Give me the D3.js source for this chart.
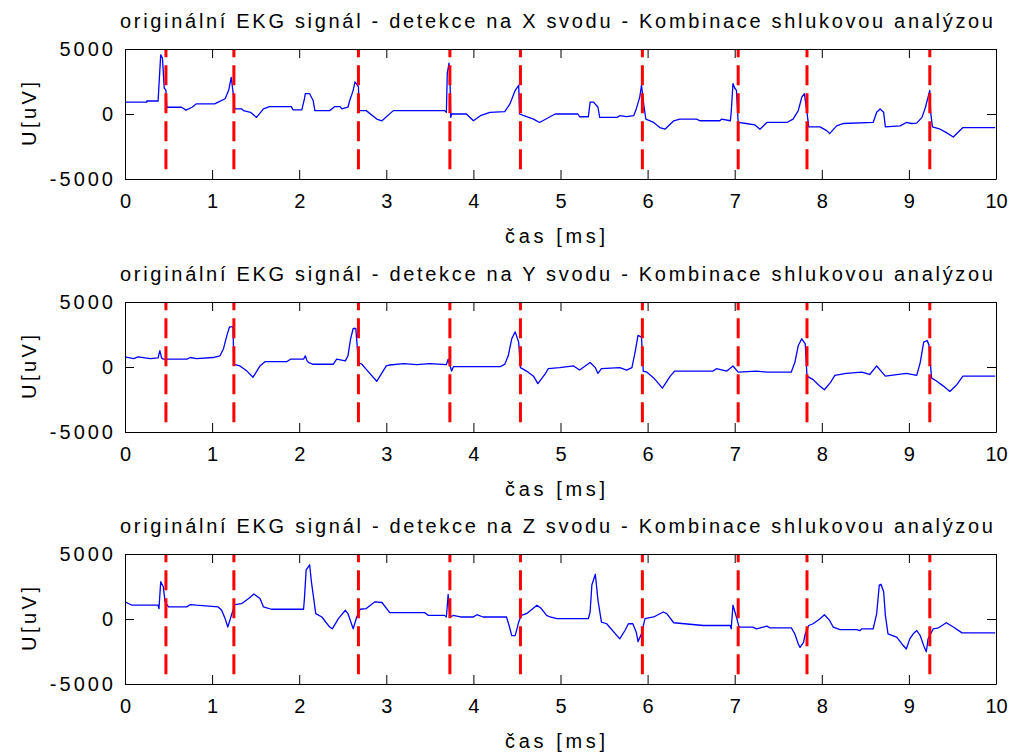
<!DOCTYPE html>
<html><head><meta charset="utf-8">
<script src="https://cdn.jsdelivr.net/npm/d3@7"></script>
<style>
body{margin:0;background:#fff}
svg text{font-family:"Liberation Sans",Arial,Helvetica,sans-serif;fill:#000}
</style>
</head><body>
<svg id="chart" width="1011" height="753"></svg>
<script>
// ---------- data ----------
const leads = ["X", "Y", "Z"];
const timeTicks = [0, 1, 2, 3, 4, 5, 6, 7, 8, 9, 10];
const voltTicks = [-5000, 0, 5000];
const timeDomain = [0, 10];
const voltDomain = [-5000, 5000];
const detections = [0.47, 1.25, 2.68, 3.73, 4.54, 5.94, 7.04, 7.83, 9.24];
const markerRange = [-4250, 5000];
const xLabelText = "čas [ms]";
const yLabelText = "U[uV]";
const titlePrefix = "originální EKG signál - detekce na ";
const titleSuffix = " svodu - Kombinace shlukovou analýzou";

const signalX = [[0,910],[0.25,910],[0.25,1000],[0.38,1000],[0.39,2210],[0.41,4550],[0.43,4300],[0.44,3200],[0.45,2000],[0.47,1820],[0.48,520],[0.65,520],[0.70,300],[0.77,520],[0.82,780],[1.03,780],[1.07,910],[1.15,1170],[1.19,1820],[1.22,2810],[1.24,1700],[1.26,390],[1.34,390],[1.36,260],[1.44,130],[1.51,-260],[1.59,390],[1.66,570],[1.91,570],[1.93,310],[2.03,310],[2.06,1170],[2.07,1560],[2.12,1560],[2.16,1040],[2.18,260],[2.35,260],[2.41,570],[2.47,570],[2.49,390],[2.56,520],[2.58,1040],[2.62,1820],[2.64,2470],[2.66,2300],[2.68,2080],[2.69,260],[2.77,260],[2.89,-390],[2.95,-520],[3.08,260],[3.67,260],[3.69,130],[3.70,3125],[3.72,3906],[3.73,3000],[3.74,-260],[3.75,0],[3.92,0],[4.00,-520],[4.08,-130],[4.19,130],[4.36,180],[4.42,780],[4.48,1820],[4.52,2210],[4.53,0],[4.61,-210],[4.69,-390],[4.76,-650],[4.88,-210],[4.94,0],[5.20,0],[5.22,-210],[5.32,-210],[5.34,910],[5.38,910],[5.43,520],[5.45,-260],[5.65,-260],[5.68,-130],[5.76,-210],[5.84,-130],[5.87,390],[5.91,1300],[5.93,2210],[5.96,520],[5.98,-390],[6.07,-650],[6.14,-1045],[6.20,-1170],[6.30,-520],[6.37,-390],[6.56,-390],[6.60,-520],[6.83,-520],[6.85,-390],[6.95,-520],[6.96,130],[6.98,2340],[7.00,2000],[7.02,1820],[7.04,-650],[7.13,-730],[7.23,-835],[7.29,-1170],[7.37,-650],[7.60,-650],[7.67,-390],[7.73,260],[7.77,1300],[7.80,1560],[7.83,130],[7.85,-990],[7.98,-990],[8.06,-1300],[8.09,-1510],[8.17,-910],[8.25,-730],[8.59,-650],[8.63,130],[8.67,390],[8.71,130],[8.73,-990],[8.90,-910],[8.97,-650],[9.03,-730],[9.09,-700],[9.15,-260],[9.19,520],[9.22,1300],[9.24,1820],[9.25,130],[9.27,-990],[9.36,-1170],[9.43,-1430],[9.51,-1770],[9.62,-1045],[9.99,-1045]];

const signalY = [[0,785],[0.10,650],[0.15,785],[0.29,650],[0.38,700],[0.40,1260],[0.42,700],[0.44,600],[0.71,600],[0.75,730],[0.82,650],[1.01,730],[1.09,860],[1.13,1390],[1.17,2430],[1.20,3090],[1.24,3090],[1.25,210],[1.32,80],[1.40,-315],[1.47,-785],[1.55,80],[1.61,420],[1.86,420],[1.90,600],[2.05,600],[2.07,860],[2.09,470],[2.11,340],[2.16,210],[2.39,210],[2.43,600],[2.53,470],[2.56,860],[2.59,2170],[2.62,2960],[2.65,2960],[2.68,340],[2.72,210],[2.77,-180],[2.89,-1100],[3.00,80],[3.04,155],[3.20,260],[3.35,180],[3.50,260],[3.69,180],[3.71,600],[3.75,-315],[3.77,25],[4.31,25],[4.36,210],[4.40,860],[4.44,2170],[4.48,2700],[4.52,1910],[4.54,-50],[4.61,-315],[4.69,-705],[4.74,-1280],[4.82,-575],[4.86,-130],[4.99,-50],[5.15,80],[5.22,-235],[5.34,340],[5.40,-50],[5.43,-495],[5.47,-130],[5.68,-50],[5.76,-235],[5.82,-50],[5.86,1260],[5.89,2430],[5.93,2300],[5.95,-315],[5.99,-390],[6.07,-840],[6.17,-1620],[6.26,-705],[6.31,-315],[6.75,-315],[6.79,-130],[6.91,-315],[6.98,80],[7.04,-390],[7.25,-315],[7.37,-390],[7.65,-390],[7.69,340],[7.73,1650],[7.77,2170],[7.81,1780],[7.83,-705],[7.90,-970],[7.96,-1360],[8.03,-1750],[8.10,-1180],[8.15,-650],[8.28,-495],[8.46,-390],[8.55,-575],[8.63,80],[8.69,-390],[8.73,-705],[8.97,-495],[9.09,-650],[9.13,340],[9.17,1910],[9.21,2040],[9.23,1700],[9.26,-840],[9.32,-1100],[9.40,-1490],[9.47,-1880],[9.55,-1360],[9.62,-705],[9.99,-705]];

const signalZ = [[0,1320],[0.08,1060],[0.38,1060],[0.39,800],[0.41,2870],[0.44,2480],[0.46,1320],[0.50,930],[0.71,930],[0.75,1110],[0.82,1060],[1.07,930],[1.11,670],[1.15,25],[1.18,-620],[1.21,25],[1.24,670],[1.26,1110],[1.34,1190],[1.42,1580],[1.48,1920],[1.55,1580],[1.59,930],[1.68,750],[2.05,750],[2.06,1580],[2.08,3780],[2.12,4170],[2.14,2870],[2.19,410],[2.26,155],[2.35,-620],[2.38,-755],[2.45,25],[2.53,670],[2.56,410],[2.62,-755],[2.66,155],[2.70,750],[2.77,800],[2.87,1320],[2.95,1270],[3.04,490],[3.44,490],[3.48,280],[3.67,280],[3.69,155],[3.71,1890],[3.73,155],[3.77,280],[3.85,155],[4.00,155],[4.04,330],[4.11,155],[4.38,155],[4.41,-500],[4.44,-1275],[4.48,-1275],[4.52,-235],[4.55,280],[4.61,410],[4.73,1060],[4.78,800],[4.84,280],[4.88,155],[4.96,25],[5.32,25],[5.34,540],[5.36,2610],[5.40,3440],[5.43,1450],[5.47,-235],[5.53,-365],[5.68,-1530],[5.74,-885],[5.78,-365],[5.83,-365],[5.87,-1010],[5.89,-1740],[5.93,-1140],[5.97,25],[6.07,155],[6.18,540],[6.22,410],[6.30,-290],[6.64,-500],[6.95,-500],[6.96,-755],[6.98,1060],[7.02,155],[7.05,-620],[7.21,-620],[7.25,-755],[7.37,-545],[7.40,-675],[7.65,-675],[7.69,-1140],[7.73,-1920],[7.75,-2180],[7.79,-1790],[7.81,-1140],[7.85,-500],[7.90,-365],[7.98,25],[8.03,330],[8.09,-110],[8.13,-620],[8.21,-810],[8.40,-810],[8.44,-885],[8.46,-755],[8.59,-755],[8.63,410],[8.66,2610],[8.68,2670],[8.71,2100],[8.73,280],[8.76,-1140],[8.86,-1400],[8.92,-1920],[8.97,-2310],[9.01,-1530],[9.05,-1140],[9.09,-885],[9.13,-1275],[9.17,-2050],[9.20,-2520],[9.22,-1530],[9.28,-755],[9.34,-675],[9.43,-290],[9.51,-620],[9.61,-1065],[9.99,-1065]];

const signals = [signalX, signalY, signalZ];

// ---------- layout ----------
const plotLeft = 125, plotRight = 996;
const plotTops = [49, 302, 554];
const plotHeight = 130;
const fontSize = 20;

const svg = d3.select("#chart");

leads.forEach((lead, i) => {
  const top = plotTops[i], bottom = top + plotHeight;
  const x = d3.scaleLinear().domain(timeDomain).range([plotLeft, plotRight]);
  const y = d3.scaleLinear().domain(voltDomain).range([bottom, top]);
  const g = svg.append("g");

  const clipId = "clip" + i;
  g.append("clipPath").attr("id", clipId).append("rect")
    .attr("x", plotLeft).attr("y", top).attr("width", plotRight - plotLeft).attr("height", plotHeight);

  const plotArea = g.append("g").attr("clip-path", `url(#${clipId})`);

  plotArea.append("path")
    .datum(signals[i])
    .attr("d", d3.line().x(d => x(d[0])).y(d => y(d[1])))
    .attr("fill", "none")
    .attr("stroke", "#0000ff")
    .attr("stroke-width", 1.3)
    .attr("stroke-linejoin", "round");

  plotArea.selectAll("line.det").data(detections).join("line")
    .attr("class", "det")
    .attr("x1", d => x(d)).attr("x2", d => x(d))
    .attr("y1", y(markerRange[0])).attr("y2", y(markerRange[1]))
    .attr("stroke", "#ff0000")
    .attr("stroke-width", 3)
    .attr("stroke-dasharray", "20,8");

  const fmt = d => String(d);
  const styleAxis = sel => {
    sel.attr("font-size", null).attr("font-family", null);
    sel.selectAll("path.domain").attr("stroke", "#000");
    sel.selectAll(".tick line").attr("stroke", "#000");
    sel.selectAll(".tick text").style("font-size", fontSize + "px").attr("fill", "#000");
  };

  g.append("g").attr("transform", `translate(0,${bottom})`)
    .call(d3.axisBottom(x).tickValues(timeTicks).tickFormat(fmt).tickSizeInner(-9).tickSizeOuter(0).tickPadding(15))
    .call(styleAxis);
  g.append("g").attr("transform", `translate(0,${top})`)
    .call(d3.axisTop(x).tickValues(timeTicks).tickFormat("").tickSizeInner(-9).tickSizeOuter(0))
    .call(styleAxis);
  const la = g.append("g").attr("transform", `translate(${plotLeft},0)`)
    .call(d3.axisLeft(y).tickValues(voltTicks).tickFormat(fmt).tickSizeInner(-9).tickSizeOuter(0).tickPadding(9))
    .call(styleAxis);
  la.selectAll(".tick text").style("letter-spacing", "3px");
  g.append("g").attr("transform", `translate(${plotRight},0)`)
    .call(d3.axisRight(y).tickValues(voltTicks).tickFormat("").tickSizeInner(-9).tickSizeOuter(0))
    .call(styleAxis);

  // title
  g.append("text")
    .attr("x", 120).attr("y", top - 21)
    .attr("text-anchor", "start")
    .style("font-size", fontSize + "px")
    .attr("textLength", 873).attr("lengthAdjust", "spacing")
    .text(titlePrefix + lead + titleSuffix);

  // x label
  g.append("text")
    .attr("x", 505).attr("y", bottom + 64)
    .attr("text-anchor", "start")
    .style("font-size", fontSize + "px")
    .attr("textLength", 100).attr("lengthAdjust", "spacing")
    .text(xLabelText);

  // y label
  g.append("text")
    .attr("transform", `translate(36,${(top + bottom) / 2 + 32}) rotate(-90)`)
    .attr("text-anchor", "start")
    .style("font-size", fontSize + "px")
    .attr("textLength", 64).attr("lengthAdjust", "spacing")
    .text(yLabelText);
});
</script>
</body></html>
